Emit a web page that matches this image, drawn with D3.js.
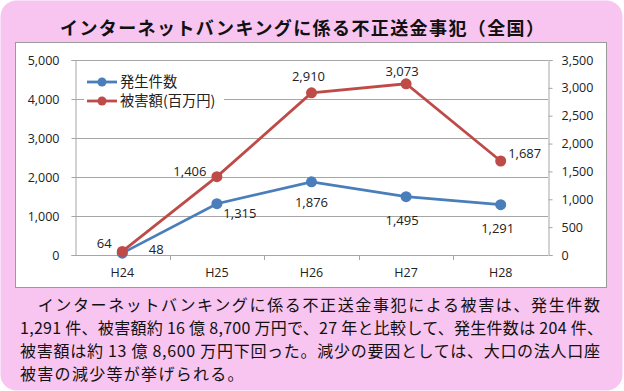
<!DOCTYPE html>
<html><head><meta charset="utf-8">
<script src="https://cdn.jsdelivr.net/npm/d3@7"></script>
<style>
html,body{margin:0;padding:0;background:#fff;}
svg{display:block;}
</style></head>
<body>
<svg id="c" width="624" height="391"></svg>
<script>
const categories = ["H24","H25","H26","H27","H28"];
const cases = [48, 1315, 1876, 1495, 1291];          // 発生件数 (left axis)
const damage = [64, 1406, 2910, 3073, 1687];         // 被害額(百万円) (right axis)
const leftTicks = [0,1000,2000,3000,4000,5000];
const rightTicks = [0,500,1000,1500,2000,2500,3000,3500];
const seriesNames = ["発生件数","被害額(百万円)"];
const titleText = "インターネットバンキングに係る不正送金事犯（全国）";
const bodyLines = [
  "　インターネットバンキングに係る不正送金事犯による被害は、発生件数",
  "1,291 件、被害額約 16 億 8,700 万円で、27 年と比較して、発生件数は 204 件、",
  "被害額は約 13 億 8,600 万円下回った。減少の要因としては、大口の法人口座",
  "被害の減少等が挙げられる。"
];

const svg = d3.select("#c");
const FONT = "'Noto Sans CJK JP','Noto Sans',sans-serif";
const AXF = "'Open Sans','Noto Sans',sans-serif";

// background
svg.append("rect").attr("x",0.5).attr("y",0.5).attr("width",622).attr("height",390)
  .attr("rx",16).attr("fill","#F8C4F0");

// title
svg.append("text").attr("x",60).attr("y",35).attr("font-family",FONT).attr("font-weight","bold")
  .attr("font-size",18).attr("fill","#111").attr("textLength",484).attr("lengthAdjust","spacing")
  .text(titleText);

// chart box
svg.append("rect").attr("x",15.5).attr("y",42.5).attr("width",591).attr("height",245)
  .attr("fill","#fff").attr("stroke","#9a9a9a").attr("stroke-width",1);

const L = 75, R = 548, T = 60, B = 255;
const x = d3.scaleBand().domain(categories).range([L,R]);
const yL = d3.scaleLinear().domain([0,5000]).range([B,T]);
const yR = d3.scaleLinear().domain([0,3500]).range([B,T]);

// gridlines
svg.append("g").selectAll("line").data(leftTicks.filter(d=>d>0)).join("line")
  .attr("x1",L).attr("x2",R).attr("y1",d=>Math.round(yL(d))+0.5).attr("y2",d=>Math.round(yL(d))+0.5)
  .attr("stroke","#a6a6a6").attr("stroke-width",1);

// axes
const gL = svg.append("g").attr("transform",`translate(${L+0.5},0)`)
  .call(d3.axisLeft(yL).tickValues(leftTicks).tickFormat(d3.format(",")).tickSize(4).tickPadding(12));
const gR = svg.append("g").attr("transform",`translate(${R+0.5},0)`)
  .call(d3.axisRight(yR).tickValues(rightTicks).tickFormat(d3.format(",")).tickSize(4).tickPadding(9));
const gX = svg.append("g").attr("transform",`translate(0,${B+0.5})`)
  .call(d3.axisBottom(x).tickSize(0).tickPadding(13));
// category boundary ticks
svg.append("g").selectAll("line").data(categories.slice(1)).join("line")
  .attr("x1",d=>Math.round(x(d))+0.5).attr("x2",d=>Math.round(x(d))+0.5)
  .attr("y1",B).attr("y2",B+5).attr("stroke","#a6a6a6");
[gL,gR,gX].forEach(g=>{
  g.selectAll(".domain").attr("stroke","#a6a6a6");
  g.selectAll(".tick line").attr("stroke","#a6a6a6");
  g.selectAll("text").attr("font-family",AXF).attr("font-size",12.5).attr("fill","#222");
});
gX.select(".domain").attr("d",`M${L},0H${R}`);

const blue = "#4A7EBB", red = "#BE4B48";
const cx = d => x(d) + x.bandwidth()/2;

// lines
const lineL = d3.line().x((d,i)=>cx(categories[i])).y(d=>yL(d));
const lineR = d3.line().x((d,i)=>cx(categories[i])).y(d=>yR(d));
svg.append("path").attr("d",lineL(cases)).attr("fill","none").attr("stroke",blue).attr("stroke-width",2.8);
svg.append("path").attr("d",lineR(damage)).attr("fill","none").attr("stroke",red).attr("stroke-width",2.8);
svg.append("g").selectAll("circle").data(cases).join("circle")
  .attr("cx",(d,i)=>cx(categories[i])).attr("cy",d=>yL(d)).attr("r",5.5).attr("fill",blue);
svg.append("g").selectAll("circle").data(damage).join("circle")
  .attr("cx",(d,i)=>cx(categories[i])).attr("cy",d=>yR(d)).attr("r",5.5).attr("fill",red);

// data labels
const fmt = d3.format(",");
const casesOff = [[34,-4],[23,10],[0,21],[-4,24],[-3,24]];
const damageOff = [[-18,-8],[-27,-5],[-3,-16],[-4,-12],[24,-8]];
const lab = svg.append("g").attr("font-family",AXF).attr("font-size",13).attr("fill","#222").attr("text-anchor","middle");
cases.forEach((d,i)=>lab.append("text").attr("x",cx(categories[i])+casesOff[i][0]).attr("y",yL(d)+casesOff[i][1]+4.5).text(fmt(d)));
damage.forEach((d,i)=>lab.append("text").attr("x",cx(categories[i])+damageOff[i][0]).attr("y",yR(d)+damageOff[i][1]+4.5).text(fmt(d)));

// legend
const lg = svg.append("g");
lg.append("rect").attr("x",84).attr("y",71).attr("width",140).attr("height",38).attr("fill","#fff");
[[blue,82],[red,101]].forEach((c,i)=>{
  lg.append("line").attr("x1",87).attr("x2",117).attr("y1",c[1]).attr("y2",c[1]).attr("stroke",c[0]).attr("stroke-width",2.8);
  lg.append("circle").attr("cx",102).attr("cy",c[1]).attr("r",4.5).attr("fill",c[0]);
  lg.append("text").attr("x",120).attr("y",c[1]+5).attr("font-family",FONT).attr("font-size",14.3).attr("fill","#222").text(seriesNames[i]);
});

// body text
const bodyY = [311,334,357,380];
const bodyLen = [580,583,580,null];
bodyLines.forEach((t,i)=>{
  const tx = svg.append("text").attr("x",20).attr("y",bodyY[i]).attr("font-family",FONT)
    .attr("font-size",16).attr("fill","#111").text(t);
  if (bodyLen[i]) tx.attr("textLength",bodyLen[i]).attr("lengthAdjust","spacing");
  else tx.attr("letter-spacing",1.3);
});
</script>
</body></html>
